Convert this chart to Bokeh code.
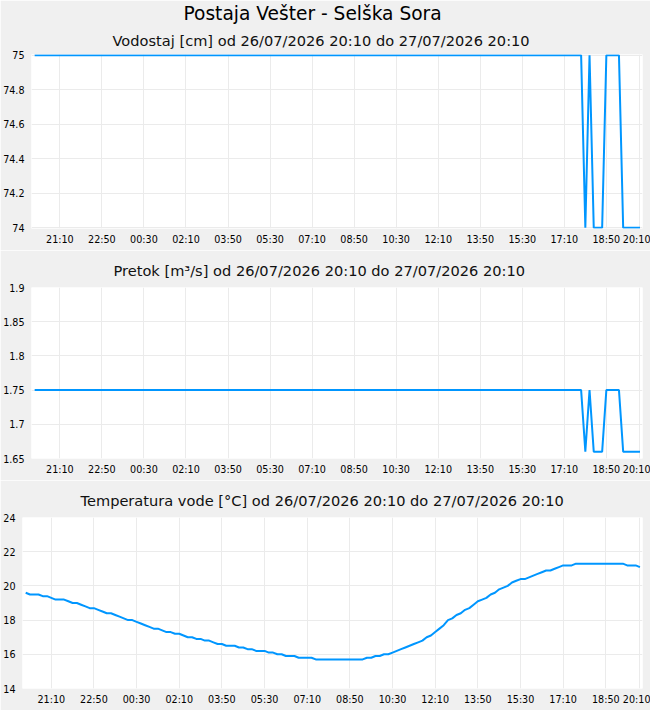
from bokeh.plotting import figure
from bokeh.models import FixedTicker, NumeralTickFormatter, Title, Range1d
from bokeh.embed import file_html
from bokeh.resources import INLINE

# ---------------- data ----------------
station = "Postaja Vešter - Selška Sora"
period = "od 26/07/2026 20:10 do 27/07/2026 20:10"
start_clock = "20:10"
step_minutes = 10

x_tick_labels = ["21:10", "22:50", "00:30", "02:10", "03:50", "05:30", "07:10",
                 "08:50", "10:30", "12:10", "13:50", "15:30", "17:10", "18:50", "20:10"]

# water level [cm], one value every 10 minutes
vodostaj_cm = [75] * 131 + [74, 75, 74, 74, 74, 75, 75, 75, 75, 74, 74, 74, 74, 74]

# discharge [m3/s], one value every 10 minutes
pretok_m3s = [1.75] * 131 + [1.66, 1.75, 1.66, 1.66, 1.66, 1.75, 1.75, 1.75, 1.75,
                             1.66, 1.66, 1.66, 1.66, 1.66]

# water temperature [degC], one value every 10 minutes
temperatura_c = [
    19.6, 19.5, 19.5, 19.5, 19.4, 19.4, 19.3, 19.2, 19.2, 19.2,
    19.1, 19.0, 19.0, 18.9, 18.8, 18.7, 18.7, 18.6, 18.5, 18.4,
    18.4, 18.3, 18.2, 18.1, 18.0, 18.0, 17.9, 17.8, 17.7, 17.6,
    17.5, 17.5, 17.4, 17.3, 17.3, 17.2, 17.2, 17.1, 17.0, 17.0,
    16.9, 16.9, 16.8, 16.8, 16.7, 16.6, 16.6, 16.5, 16.5, 16.5,
    16.4, 16.4, 16.3, 16.3, 16.2, 16.2, 16.2, 16.1, 16.1, 16.0,
    16.0, 15.9, 15.9, 15.9, 15.8, 15.8, 15.8, 15.8, 15.7, 15.7,
    15.7, 15.7, 15.7, 15.7, 15.7, 15.7, 15.7, 15.7, 15.7, 15.7,
    15.8, 15.8, 15.9, 15.9, 16.0, 16.0, 16.1, 16.2, 16.3, 16.4,
    16.5, 16.6, 16.7, 16.8, 17.0, 17.1, 17.3, 17.5, 17.7, 18.0,
    18.1, 18.3, 18.4, 18.6, 18.7, 18.9, 19.1, 19.2, 19.3, 19.5,
    19.6, 19.8, 19.9, 20.0, 20.2, 20.3, 20.4, 20.4, 20.5, 20.6,
    20.7, 20.8, 20.9, 20.9, 21.0, 21.1, 21.2, 21.2, 21.2, 21.3,
    21.3, 21.3, 21.3, 21.3, 21.3, 21.3, 21.3, 21.3, 21.3, 21.3,
    21.3, 21.2, 21.2, 21.2, 21.1,
]

vodostaj_ticks = [74, 74.2, 74.4, 74.6, 74.8, 75]
pretok_ticks = [1.65, 1.7, 1.75, 1.8, 1.85, 1.9]
temperatura_ticks = [14, 16, 18, 20, 22, 24]

# ---------------- derived ----------------
minutes = [i * step_minutes for i in range(len(vodostaj_cm))]


def clock_to_minutes(lbl):
    h, m = map(int, lbl.split(":"))
    sh, sm = map(int, start_clock.split(":"))
    d = (h * 60 + m - (sh * 60 + sm)) % 1440
    return d if d else 1440


tick_pos = [clock_to_minutes(l) for l in x_tick_labels]

FONT = "DejaVu Sans"
BG = "#f0f0f0"
LINE = "#0096ff"
GRID = "#ebebeb"


def make_panel(subtitle, y, yr, yticks, height, top, sub_offset, sub_standoff,
               main=None, main_offset=0):
    p = figure(width=650, height=height, output_backend="svg", toolbar_location=None,
               x_range=Range1d(-7.5, 1446), y_range=Range1d(*yr),
               background_fill_color="white", border_fill_color=BG,
               min_border_left=0, min_border_right=8, min_border_top=top,
               min_border_bottom=22, outline_line_color=None)
    p.add_layout(Title(text=subtitle, align="left", offset=sub_offset, text_font=FONT,
                       text_font_size="14.6px", text_font_style="normal",
                       text_color="#111111", standoff=sub_standoff), "above")
    if main:
        p.add_layout(Title(text=main, align="left", offset=main_offset, text_font=FONT,
                           text_font_size="18.6px", text_font_style="normal",
                           text_color="#000000", standoff=0), "above")
    p.line(minutes, y, line_color=LINE, line_width=2)

    p.xaxis.ticker = FixedTicker(ticks=tick_pos)
    p.xaxis.major_label_overrides = dict(zip(tick_pos, x_tick_labels))
    p.yaxis.ticker = FixedTicker(ticks=yticks)
    p.yaxis.formatter = NumeralTickFormatter(format="0.[00]")
    for ax in (p.xaxis, p.yaxis):
        ax.axis_line_color = None
        ax.major_tick_line_color = None
        ax.minor_tick_line_color = None
        ax.major_tick_out = 0
        ax.major_tick_in = 0
        ax.major_label_text_font = FONT
        ax.major_label_text_font_size = "9.6px"
        ax.major_label_text_color = "#000000"
    p.xaxis.major_label_standoff = 5
    p.yaxis.major_label_standoff = 7
    p.xgrid.grid_line_color = GRID
    p.ygrid.grid_line_color = GRID
    return p


p1 = make_panel("Vodostaj [cm] " + period, vodostaj_cm, (73.995, 75.005), vodostaj_ticks,
                250, 53, 81, 12, main=station, main_offset=152)
p2 = make_panel("Pretok [m³/s] " + period, pretok_m3s, (1.65, 1.9), pretok_ticks,
                230, 36, 82, 18)
p3 = make_panel("Temperatura vode [°C] " + period, temperatura_c, (14, 24),
                temperatura_ticks, 230, 36, 58, 18)

open("out.html", "w").write(file_html([p1, p2, p3], INLINE))
